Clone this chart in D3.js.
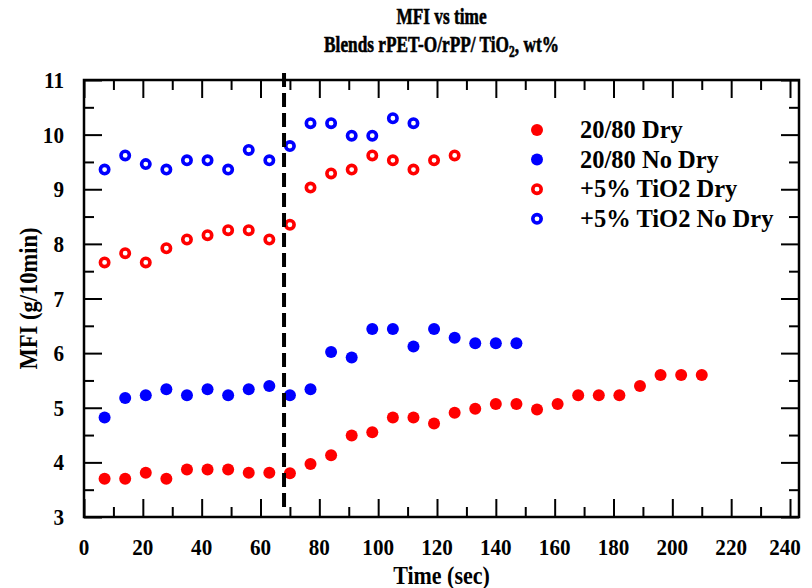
<!DOCTYPE html>
<html><head><meta charset="utf-8">
<script src="https://cdn.jsdelivr.net/npm/d3@7"></script>
<style>
body{margin:0;background:#fff}
svg{display:block}
text{font-family:"Liberation Serif","Times New Roman",serif;font-weight:bold;fill:#000}
</style>
</head><body>
<svg id="chart" width="812" height="588"></svg>
<script>
// ---------- data ----------
const seriesNames = ["20/80 Dry", "20/80 No Dry", "+5% TiO2 Dry", "+5% TiO2 No Dry"];
const seriesColors = ["#ff0000", "#0000ff", "#ff0000", "#0000ff"];
const seriesFilled = [true, true, false, false];

const timeDry = [7,14,21,28,35,42,49,56,63,70,77,84,91,98,105,112,119,126,133,140,147,154,161,168,175,182,189,196,203,210];
const mfiDry = [3.70,3.70,3.81,3.70,3.87,3.87,3.87,3.81,3.81,3.80,3.97,4.13,4.49,4.55,4.82,4.82,4.71,4.91,4.98,5.07,5.07,4.97,5.07,5.23,5.23,5.23,5.40,5.60,5.60,5.60];

const timeNoDry = [7,14,21,28,35,42,49,56,63,70,77,84,91,98,105,112,119,126,133,140,147];
const mfiNoDry = [4.82,5.18,5.23,5.34,5.23,5.34,5.23,5.34,5.40,5.23,5.34,6.02,5.92,6.44,6.44,6.12,6.44,6.28,6.18,6.18,6.18];

const timeTiO2Dry = [7,14,21,28,35,42,49,56,63,70,77,84,91,98,105,112,119,126];
const mfiTiO2Dry = [7.66,7.83,7.66,7.92,8.08,8.16,8.25,8.25,8.08,8.35,9.03,9.29,9.36,9.62,9.53,9.36,9.53,9.62];

const timeTiO2NoDry = [7,14,21,28,35,42,49,56,63,70,77,84,91,98,105,112];
const mfiTiO2NoDry = [9.36,9.62,9.46,9.36,9.53,9.53,9.36,9.72,9.53,9.79,10.21,10.21,9.98,9.98,10.30,10.21];

const dividerTime = 68;

const xTickValues = [0,20,40,60,80,100,120,140,160,180,200,220,240];
const xMinorValues = [10,30,50,70,90,110,130,150,170,190,210,230];
const yTickValues = [3,4,5,6,7,8,9,10,11];
const yMinorValues = [3.5,4.5,5.5,6.5,7.5,8.5,9.5,10.5];

const titleLine1 = "MFI vs time";
const xTitle = "Time (sec)";
const yTitle = "MFI (g/10min)";

// ---------- layout ----------
const svg = d3.select("#chart");
const L = 84, R = 799, T = 80, B = 517;
const x = d3.scaleLinear().domain([0, 240]).range([L, 790]);
const y = d3.scaleLinear().domain([3, 11]).range([B, T]);

const series = [
  {t: timeDry, v: mfiDry},
  {t: timeNoDry, v: mfiNoDry},
  {t: timeTiO2Dry, v: mfiTiO2Dry},
  {t: timeTiO2NoDry, v: mfiTiO2NoDry}
].map((s, i) => ({name: seriesNames[i], color: seriesColors[i], filled: seriesFilled[i],
  pts: s.t.map((tt, j) => ({t: tt, v: s.v[j]}))}));

// ---------- ticks (inward, all four sides) ----------
function noDomain(g){ g.select(".domain").remove(); g.selectAll(".tick line").attr("stroke","#000").attr("stroke-width",2); }
const MAJ = 18, MIN = 10;
svg.append("g").attr("transform",`translate(0,${B})`).call(d3.axisBottom(x).tickValues(xTickValues).tickSize(-MAJ).tickFormat("")).call(noDomain);
svg.append("g").attr("transform",`translate(0,${B})`).call(d3.axisBottom(x).tickValues(xMinorValues).tickSize(-MIN).tickFormat("")).call(noDomain);
svg.append("g").attr("transform",`translate(0,${T})`).call(d3.axisTop(x).tickValues(xTickValues).tickSize(-MAJ).tickFormat("")).call(noDomain);
svg.append("g").attr("transform",`translate(0,${T})`).call(d3.axisTop(x).tickValues(xMinorValues).tickSize(-MIN).tickFormat("")).call(noDomain);
svg.append("g").attr("transform",`translate(${L},0)`).call(d3.axisLeft(y).tickValues(yTickValues).tickSize(-MAJ).tickFormat("")).call(noDomain);
svg.append("g").attr("transform",`translate(${L},0)`).call(d3.axisLeft(y).tickValues(yMinorValues).tickSize(-MIN).tickFormat("")).call(noDomain);
svg.append("g").attr("transform",`translate(${R},0)`).call(d3.axisRight(y).tickValues(yTickValues).tickSize(-MAJ).tickFormat("")).call(noDomain);
svg.append("g").attr("transform",`translate(${R},0)`).call(d3.axisRight(y).tickValues(yMinorValues).tickSize(-MIN).tickFormat("")).call(noDomain);

// frame
svg.append("rect").attr("x",L).attr("y",T).attr("width",R-L).attr("height",B-T)
  .attr("fill","none").attr("stroke","#000").attr("stroke-width",2.5);

// condensed text helper
function ctext(g, px, py, size, sx, anchor, rot){
  return g.append("text")
    .attr("transform", `translate(${px},${py})` + (rot ? ` rotate(${rot})` : "") + ` scale(${sx},1)`)
    .attr("text-anchor", anchor).style("font-size", size + "px");
}

// tick labels
const xl = svg.append("g");
xTickValues.forEach(d => ctext(xl, Math.min(x(d), 785), 555, 23, 0.92, "middle").text(d));
const yl = svg.append("g");
yTickValues.forEach(d => ctext(yl, 64, y(d) + 8, 23, 0.92, "end").text(d));

// axis titles
ctext(svg, (L+R)/2, 584, 25, 0.88, "middle").text(xTitle);
ctext(svg, 37, (T+B)/2, 25, 0.9, "middle", -90).text(yTitle);

// title
ctext(svg, (L+R)/2, 24, 24, 0.72, "middle").style("stroke","#000").style("stroke-width","0.6px").text(titleLine1);
const t2 = ctext(svg, (L+R)/2, 52, 24, 0.72, "middle").style("stroke","#000").style("stroke-width","0.6px");
t2.append("tspan").text("Blends rPET-O/rPP/ TiO");
t2.append("tspan").attr("dy",5).style("font-size","16px").text("2");
t2.append("tspan").attr("dy",-5).text(", wt%");

// ---------- points ----------
function drawMarker(sel, s){
  if (s.filled) sel.attr("r",6).attr("fill",s.color).attr("stroke","none");
  else sel.attr("r",4.2).attr("fill","#fff").attr("stroke",s.color).attr("stroke-width",3.6);
}
series.forEach(s => {
  svg.append("g").selectAll("circle").data(s.pts).join("circle")
    .attr("cx", d => x(d.t)).attr("cy", d => y(d.v))
    .call(sel => drawMarker(sel, s));
});

// dashed divider
svg.append("line").attr("x1",x(dividerTime)).attr("x2",x(dividerTime))
  .attr("y1",T-7).attr("y2",B-4)
  .attr("stroke","#000").attr("stroke-width",4).attr("stroke-dasharray","14,6");

// ---------- legend ----------
const lg = svg.append("g");
series.forEach((s, i) => {
  const yy = 130 + i*29.6;
  lg.append("circle").attr("cx",537).attr("cy",yy).call(sel => drawMarker(sel, s));
  lg.append("text").attr("x",580).attr("y",yy+8).style("font-size","24.5px").text(s.name);
});
</script>
</body></html>
